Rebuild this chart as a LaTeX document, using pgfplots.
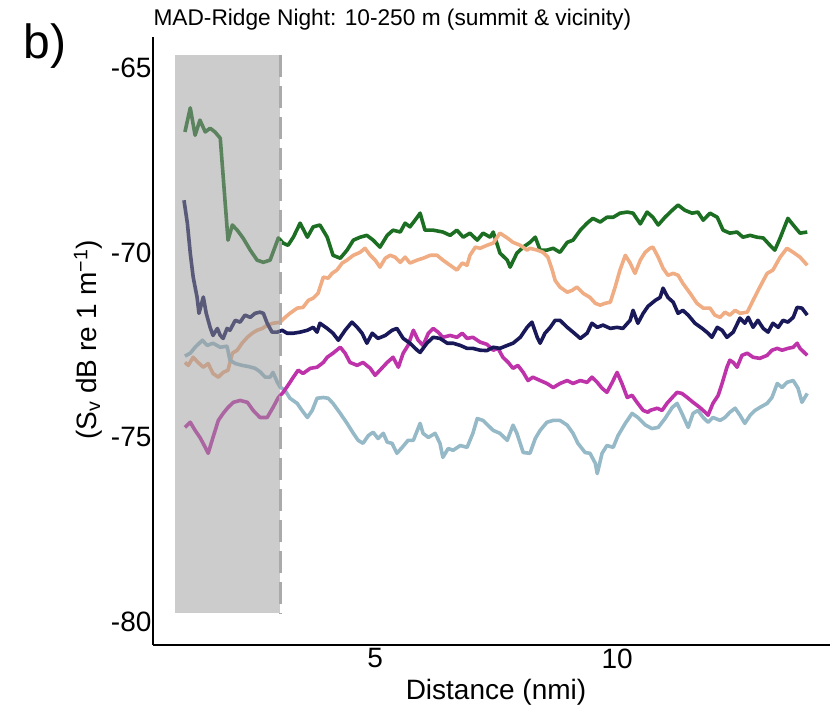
\documentclass[border=0pt]{standalone}
\usepackage{pgfplots}
\pgfplotsset{compat=1.18}
\usepackage{fontspec}
\setmainfont{Liberation Sans}
\definecolor{cgreen}{RGB}{28,110,35}
\definecolor{cnavy}{RGB}{25,25,90}
\definecolor{corange}{RGB}{240,172,130}
\definecolor{cmagenta}{RGB}{190,50,170}
\definecolor{clblue}{RGB}{150,185,200}
\definecolor{cshade}{RGB}{153,153,153}
\definecolor{cdash}{RGB}{170,170,170}
\begin{document}
\begin{tikzpicture}[x=1pt,y=1pt]
\path[use as bounding box] (0,0) rectangle (830,711);
\node[anchor=west,font=\fontsize{22.7}{26}\selectfont] at (150,691) {MAD-Ridge Night: 10-250 m (summit \& vicinity)};
\node[font=\fontsize{48}{52}\selectfont] at (45,665) {b)};
\node[rotate=90,font=\fontsize{28}{32}\selectfont] at (88,371) {(S\textsubscript{v} dB re 1 m\textsuperscript{−1})};
\node[font=\fontsize{28}{32}\selectfont] at (496,19) {Distance (nmi)};
\begin{axis}[
  at={(153pt,66pt)}, anchor=south west,
  scale only axis, width=677pt, height=608pt,
  xmin=0.41, xmax=14.4, ymin=-80.62, ymax=-64.16,
  axis x line=bottom, axis y line=left,
  axis line style={-, line width=1.2pt, black},
  xtick={5,10}, ytick={-65,-70,-75,-80},
  yticklabels={-65,-70,-75,-80},
  major tick length=0pt,
  /pgf/number format/assume math mode=true,
  tick label style={font=\fontsize{28}{32}\selectfont},
  yticklabel style={xshift=2pt},
  clip=false,
  every axis plot/.append style={line width=3.6pt, line join=round},
]
% green
\addplot[cgreen] coordinates {
(1.07,-66.73)(1.18,-66.08)(1.28,-66.82)(1.38,-66.41)(1.49,-66.73)(1.59,-66.63)(1.69,-66.73)(1.80,-66.90)
(1.96,-69.66)(2.05,-69.25)(2.15,-69.39)(2.27,-69.60)(2.42,-69.93)(2.56,-70.20)(2.69,-70.26)(2.83,-70.20)
(2.93,-69.85)(3.00,-69.60)(3.10,-69.74)(3.20,-69.80)(3.31,-69.58)(3.45,-69.20)(3.60,-69.58)(3.72,-69.30)
(3.86,-69.25)(4.01,-69.58)(4.13,-70.07)(4.28,-70.15)(4.42,-69.93)(4.55,-69.66)(4.69,-69.58)(4.83,-69.53)
(4.96,-69.66)(5.10,-69.85)(5.25,-69.53)(5.37,-69.39)(5.52,-69.44)(5.62,-69.20)(5.72,-69.30)(5.87,-69.04)
(5.93,-68.93)(6.03,-69.39)(6.20,-69.39)(6.40,-69.44)(6.55,-69.53)(6.69,-69.39)(6.82,-69.58)(6.96,-69.47)
(7.11,-69.66)(7.23,-69.47)(7.38,-69.58)(7.44,-69.44)(7.58,-70.01)(7.73,-70.20)(7.79,-70.39)(7.93,-70.01)
(8.06,-69.85)(8.20,-69.72)(8.31,-69.58)(8.41,-69.93)(8.55,-69.93)(8.68,-69.88)(8.82,-69.99)(8.97,-69.72)
(9.09,-69.66)(9.24,-69.39)(9.38,-69.20)(9.50,-69.07)(9.65,-69.17)(9.79,-69.04)(9.92,-69.04)(10.06,-68.93)
(10.21,-68.90)(10.33,-68.93)(10.48,-69.22)(10.62,-68.90)(10.74,-69.04)(10.85,-69.25)(10.99,-69.04)(11.14,-68.85)
(11.26,-68.71)(11.40,-68.85)(11.55,-68.93)(11.67,-68.90)(11.78,-69.12)(11.92,-68.93)(12.07,-69.04)(12.19,-69.39)
(12.33,-69.47)(12.48,-69.44)(12.60,-69.58)(12.75,-69.53)(12.89,-69.58)(13.02,-69.60)(13.16,-69.80)(13.26,-69.93)
(13.37,-69.60)(13.53,-69.07)(13.64,-69.25)(13.78,-69.47)(13.93,-69.44)};
% orange
\addplot[corange] coordinates {
(1.07,-72.97)(1.14,-73.05)(1.24,-72.83)(1.34,-72.97)(1.45,-73.10)(1.55,-73.00)(1.65,-73.27)(1.76,-73.37)
(1.86,-73.24)(1.96,-73.18)(2.05,-72.72)(2.15,-72.64)(2.25,-72.45)(2.36,-72.29)(2.46,-72.18)(2.56,-72.10)
(2.67,-72.05)(2.77,-71.96)(2.89,-71.91)(3.04,-71.88)(3.14,-71.75)(3.24,-71.64)(3.39,-71.50)(3.51,-71.48)
(3.62,-71.29)(3.72,-71.23)(3.82,-71.10)(3.93,-70.66)(4.03,-70.69)(4.11,-70.56)(4.21,-70.47)(4.32,-70.28)
(4.42,-70.20)(4.55,-70.07)(4.69,-69.99)(4.79,-69.88)(4.90,-70.07)(5.00,-70.20)(5.10,-70.39)(5.21,-70.15)
(5.31,-70.07)(5.41,-70.12)(5.52,-70.26)(5.62,-70.12)(5.72,-70.28)(5.87,-70.20)(5.99,-70.15)(6.14,-70.07)
(6.28,-70.07)(6.40,-70.20)(6.55,-70.34)(6.69,-70.47)(6.80,-70.28)(6.90,-70.34)(6.96,-70.07)(7.07,-69.85)
(7.17,-69.88)(7.31,-69.80)(7.44,-69.74)(7.58,-69.47)(7.73,-69.60)(7.85,-69.72)(8.00,-69.80)(8.14,-69.93)
(8.20,-69.88)(8.35,-69.93)(8.47,-69.99)(8.57,-70.12)(8.66,-70.47)(8.72,-70.75)(8.82,-70.93)(8.97,-71.07)
(9.07,-71.02)(9.17,-70.93)(9.30,-71.10)(9.44,-71.21)(9.55,-71.37)(9.65,-71.42)(9.75,-71.37)(9.86,-71.34)
(9.96,-70.93)(10.06,-70.47)(10.17,-70.07)(10.27,-70.28)(10.37,-70.56)(10.48,-70.20)(10.58,-69.99)(10.68,-69.88)
(10.74,-69.85)(10.85,-70.12)(10.95,-70.42)(11.05,-70.61)(11.16,-70.56)(11.26,-70.61)(11.36,-70.83)(11.51,-71.10)
(11.65,-71.37)(11.78,-71.50)(11.92,-71.50)(12.02,-71.69)(12.13,-71.75)(12.23,-71.61)(12.33,-71.69)(12.44,-71.56)
(12.54,-71.64)(12.69,-71.61)(12.81,-71.29)(12.95,-70.93)(13.10,-70.56)(13.22,-70.47)(13.37,-70.12)(13.51,-69.88)
(13.64,-69.99)(13.78,-70.12)(13.93,-70.34)};
% light blue
\addplot[clblue] coordinates {
(1.07,-72.80)(1.18,-72.72)(1.28,-72.56)(1.43,-72.37)(1.53,-72.51)(1.65,-72.45)(1.80,-72.56)(1.94,-72.53)
(2.00,-72.91)(2.11,-73.00)(2.25,-73.05)(2.38,-73.08)(2.52,-73.13)(2.62,-73.22)(2.73,-73.37)(2.83,-73.37)
(2.89,-73.24)(2.98,-73.51)(3.04,-73.64)(3.14,-73.73)(3.24,-73.94)(3.39,-74.08)(3.49,-74.27)(3.60,-74.46)
(3.70,-74.27)(3.80,-73.94)(3.93,-73.92)(4.03,-73.94)(4.13,-74.08)(4.28,-74.35)(4.42,-74.62)(4.55,-74.89)
(4.65,-75.08)(4.75,-75.16)(4.86,-74.95)(4.96,-74.86)(5.06,-75.03)(5.17,-74.89)(5.25,-75.13)(5.35,-75.16)
(5.45,-75.43)(5.56,-75.27)(5.68,-75.08)(5.79,-75.08)(5.93,-74.62)(5.99,-74.89)(6.10,-75.00)(6.24,-74.89)
(6.34,-75.16)(6.40,-75.54)(6.51,-75.30)(6.61,-75.35)(6.76,-75.22)(6.90,-75.27)(7.02,-74.89)(7.11,-74.49)
(7.23,-74.54)(7.33,-74.67)(7.44,-74.81)(7.58,-74.89)(7.73,-75.08)(7.85,-74.67)(7.93,-74.89)(8.06,-75.41)
(8.20,-75.43)(8.31,-75.03)(8.41,-74.81)(8.55,-74.59)(8.68,-74.54)(8.82,-74.54)(8.97,-74.67)(9.09,-74.89)
(9.19,-75.16)(9.34,-75.41)(9.44,-75.43)(9.55,-75.70)(9.59,-75.98)(9.69,-75.43)(9.79,-75.22)(9.92,-75.27)
(10.02,-74.95)(10.17,-74.62)(10.31,-74.35)(10.43,-74.46)(10.58,-74.66)(10.72,-74.76)(10.85,-74.73)(10.99,-74.49)
(11.14,-74.19)(11.24,-74.08)(11.34,-74.35)(11.47,-74.73)(11.57,-74.35)(11.67,-74.27)(11.78,-74.46)(11.88,-74.59)
(11.98,-74.46)(12.13,-74.54)(12.23,-74.46)(12.33,-74.32)(12.44,-74.21)(12.54,-74.40)(12.64,-74.62)(12.75,-74.40)
(12.85,-74.27)(12.95,-74.19)(13.10,-74.08)(13.20,-73.92)(13.31,-73.54)(13.41,-73.65)(13.51,-73.51)(13.64,-73.46)
(13.74,-73.67)(13.82,-74.05)(13.93,-73.81)};
% magenta
\addplot[cmagenta] coordinates {
(1.07,-74.73)(1.18,-74.59)(1.28,-74.81)(1.38,-75.00)(1.49,-75.27)(1.55,-75.43)(1.65,-75.00)(1.76,-74.54)
(1.86,-74.35)(1.96,-74.19)(2.07,-74.05)(2.21,-74.00)(2.36,-74.05)(2.48,-74.27)(2.62,-74.46)(2.77,-74.46)
(2.89,-74.19)(3.00,-73.92)(3.10,-73.78)(3.20,-73.59)(3.31,-73.37)(3.41,-73.18)(3.51,-73.27)(3.66,-73.13)
(3.80,-73.10)(3.93,-72.97)(4.01,-72.83)(4.13,-72.72)(4.28,-72.56)(4.38,-72.72)(4.48,-72.97)(4.63,-73.05)
(4.75,-72.97)(4.90,-73.13)(5.00,-73.32)(5.10,-73.18)(5.25,-72.97)(5.37,-72.83)(5.48,-73.10)(5.58,-72.72)
(5.68,-72.51)(5.79,-72.10)(5.89,-72.37)(5.99,-72.51)(6.10,-72.18)(6.20,-72.05)(6.30,-72.15)(6.40,-72.29)
(6.55,-72.24)(6.69,-72.29)(6.80,-72.18)(6.90,-72.32)(7.02,-72.29)(7.17,-72.42)(7.31,-72.48)(7.44,-72.64)
(7.54,-72.59)(7.64,-72.83)(7.75,-72.97)(7.85,-73.13)(7.95,-73.05)(8.06,-73.24)(8.16,-73.46)(8.26,-73.37)
(8.41,-73.46)(8.55,-73.54)(8.68,-73.65)(8.82,-73.54)(8.97,-73.46)(9.09,-73.54)(9.24,-73.46)(9.38,-73.51)
(9.48,-73.37)(9.59,-73.51)(9.69,-73.67)(9.79,-73.78)(9.90,-73.51)(10.00,-73.24)(10.10,-73.54)(10.21,-73.92)
(10.31,-73.86)(10.41,-74.05)(10.54,-74.27)(10.64,-74.32)(10.68,-74.27)(10.83,-74.21)(10.93,-74.27)(11.03,-74.08)
(11.14,-73.92)(11.24,-73.78)(11.34,-73.81)(11.45,-73.92)(11.57,-74.05)(11.71,-74.19)(11.82,-74.32)(11.88,-74.40)
(11.98,-74.08)(12.09,-73.86)(12.17,-73.54)(12.27,-73.10)(12.33,-72.91)(12.40,-72.97)(12.48,-73.10)(12.58,-72.78)
(12.69,-72.72)(12.81,-72.83)(12.95,-72.86)(13.10,-72.78)(13.20,-72.64)(13.31,-72.59)(13.41,-72.64)(13.53,-72.59)
(13.64,-72.56)(13.72,-72.45)(13.78,-72.59)(13.93,-72.78)};
% navy
\addplot[cnavy] coordinates {
(1.05,-68.58)(1.12,-69.20)(1.18,-70.01)(1.24,-70.66)(1.32,-71.20)(1.36,-71.64)(1.45,-71.20)(1.51,-71.64)
(1.59,-72.02)(1.65,-72.24)(1.74,-72.05)(1.80,-72.24)(1.86,-72.32)(1.94,-72.05)(2.00,-72.10)(2.11,-71.83)
(2.21,-71.88)(2.31,-71.69)(2.42,-71.75)(2.52,-71.64)(2.62,-71.61)(2.69,-71.64)(2.77,-71.91)(2.87,-72.15)
(2.98,-72.15)(3.08,-72.10)(3.18,-72.18)(3.31,-72.18)(3.45,-72.15)(3.60,-72.10)(3.72,-72.02)(3.80,-72.15)
(3.86,-71.91)(4.01,-72.05)(4.13,-72.18)(4.24,-72.37)(4.38,-72.10)(4.52,-71.88)(4.63,-72.02)(4.73,-72.18)
(4.83,-72.45)(4.94,-72.18)(5.06,-72.32)(5.21,-72.24)(5.35,-72.10)(5.45,-72.05)(5.58,-72.32)(5.72,-72.45)
(5.87,-72.64)(5.93,-72.70)(6.07,-72.45)(6.20,-72.29)(6.34,-72.32)(6.49,-72.45)(6.61,-72.45)(6.76,-72.51)
(6.90,-72.59)(7.02,-72.59)(7.17,-72.64)(7.31,-72.65)(7.44,-72.56)(7.58,-72.59)(7.73,-72.51)(7.85,-72.45)
(8.00,-72.29)(8.14,-72.02)(8.24,-71.88)(8.35,-72.29)(8.41,-72.45)(8.51,-72.18)(8.62,-72.02)(8.72,-71.83)
(8.82,-71.83)(8.97,-72.02)(9.09,-72.15)(9.24,-72.32)(9.38,-72.18)(9.48,-71.91)(9.59,-72.02)(9.71,-71.96)
(9.86,-72.05)(10.00,-72.02)(10.12,-72.05)(10.27,-71.83)(10.33,-71.56)(10.43,-71.91)(10.54,-71.64)(10.64,-71.45)
(10.79,-71.29)(10.89,-71.21)(10.95,-70.96)(11.05,-71.21)(11.16,-71.34)(11.26,-71.64)(11.36,-71.56)(11.47,-71.69)
(11.61,-71.91)(11.76,-72.05)(11.88,-72.18)(11.96,-72.29)(12.07,-72.02)(12.17,-72.10)(12.27,-72.29)(12.40,-72.15)
(12.54,-71.77)(12.64,-71.91)(12.71,-71.75)(12.81,-72.02)(12.91,-71.83)(13.02,-72.05)(13.12,-72.15)(13.22,-71.91)
(13.33,-72.02)(13.43,-71.83)(13.53,-71.88)(13.64,-71.75)(13.72,-71.48)(13.82,-71.50)(13.93,-71.69)};
% shaded summit region
\fill[cshade, fill opacity=0.5] (axis cs:0.87,-64.65) rectangle (axis cs:3.04,-79.76);
\draw[cdash, line width=2.5pt, dash pattern=on 22pt off 9pt] (axis cs:3.04,-64.65) -- (axis cs:3.04,-79.76);
\end{axis}
\end{tikzpicture}
\end{document}
